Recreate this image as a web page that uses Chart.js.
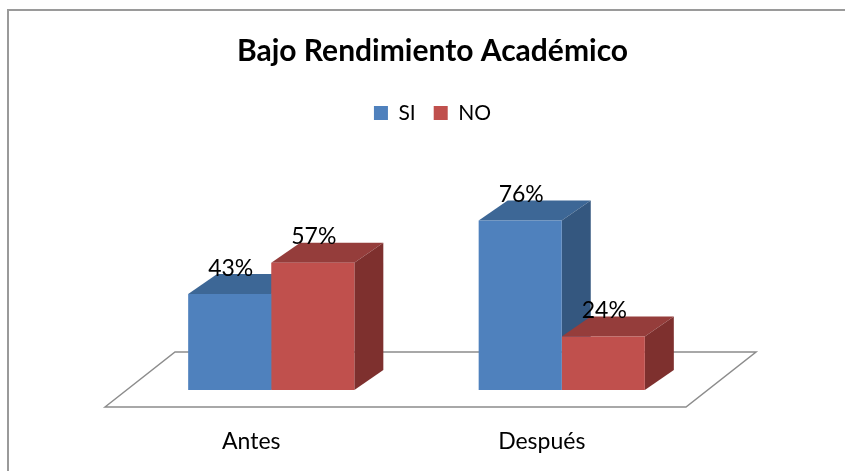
<!DOCTYPE html>
<html>
<head>
<meta charset="utf-8">
<script src="https://cdn.jsdelivr.net/npm/chart.js@4.4.0/dist/chart.umd.min.js"></script>
<style>
body { margin: 0; background: #fff; }
canvas { display: block; }
</style>
</head>
<body>
<canvas id="grafico" width="845" height="471"></canvas>
<script>
const categorias = ['Antes', 'Después'];
const seriesNombres = ['SI', 'NO'];
const valoresSI = [43, 76];
const valoresNO = [57, 24];

const colores = {
    SI: { frente: '#4F81BD', arriba: '#3D6796', lado: '#34577F' },
    NO: { frente: '#C0504D', arriba: '#953D3B', lado: '#7E302E' }
};

// profundidad de las barras y del piso (en px)
const prof = { dx: 29, dy: -20 };
const piso = { dx: 70, dy: -55, adelante: 17, corrX: -21 };

function poligono(ctx, puntos, relleno) {
    ctx.beginPath();
    ctx.moveTo(puntos[0][0], puntos[0][1]);
    for (let i = 1; i < puntos.length; i++) ctx.lineTo(puntos[i][0], puntos[i][1]);
    ctx.closePath();
    ctx.fillStyle = relleno;
    ctx.fill();
}

const efecto3D = {
    id: 'efecto3D',
    beforeDraw(chart) {
        const ctx = chart.ctx;
        ctx.save();
        ctx.strokeStyle = '#9a9a9a';
        ctx.lineWidth = 2;
        ctx.beginPath();
        ctx.moveTo(8, chart.height);
        ctx.lineTo(8, 10);
        ctx.lineTo(chart.width, 10);
        ctx.stroke();
        ctx.restore();
    },
    beforeDatasetsDraw(chart) {
        const ctx = chart.ctx;
        const area = chart.chartArea;
        const base = chart.scales.y.getPixelForValue(0);
        const fy = base + piso.adelante;
        const izq = area.left + piso.corrX;
        const der = area.right + piso.corrX;

        ctx.save();
        ctx.beginPath();
        ctx.moveTo(izq, fy);
        ctx.lineTo(izq + piso.dx, fy + piso.dy);
        ctx.lineTo(der + piso.dx, fy + piso.dy);
        ctx.lineTo(der, fy);
        ctx.closePath();
        ctx.fillStyle = '#ffffff';
        ctx.fill();
        ctx.strokeStyle = '#8c8c8c';
        ctx.lineWidth = 1.5;
        ctx.stroke();

        chart.data.datasets.forEach((ds, i) => {
            const meta = chart.getDatasetMeta(i);
            const col = colores[ds.label];
            meta.data.forEach(bar => {
                const p = bar.getProps(['x', 'y', 'base', 'width'], true);
                const l = p.x - p.width / 2;
                const r = p.x + p.width / 2;
                poligono(ctx, [[l, p.y], [l + prof.dx, p.y + prof.dy], [r + prof.dx, p.y + prof.dy], [r, p.y]], col.arriba);
                poligono(ctx, [[r, p.y], [r + prof.dx, p.y + prof.dy], [r + prof.dx, p.base + prof.dy], [r, p.base]], col.lado);
            });
        });
        ctx.restore();
    },
    afterDatasetsDraw(chart) {
        const ctx = chart.ctx;
        ctx.save();
        ctx.font = '23px Lato';
        ctx.fillStyle = '#000';
        ctx.textAlign = 'center';
        ctx.textBaseline = 'middle';
        chart.data.datasets.forEach((ds, i) => {
            chart.getDatasetMeta(i).data.forEach((bar, j) => {
                const p = bar.getProps(['x', 'y'], true);
                ctx.fillText(ds.data[j] + '%', p.x + 1, p.y - 26);
            });
        });
        ctx.restore();
    }
};

Chart.defaults.font.family = 'Lato';
Chart.defaults.color = '#000';

// eje invisible que solo reserva espacio
function ejeHueco(posicion, ancho) {
    return {
        position: posicion,
        display: true,
        min: 0,
        max: 115,
        grid: { display: false, drawTicks: false },
        border: { display: false },
        ticks: { display: false },
        afterFit(scale) { scale.width = ancho; }
    };
}

new Chart(document.getElementById('grafico'), {
    type: 'bar',
    data: {
        labels: categorias,
        datasets: [
            { label: seriesNombres[0], data: valoresSI, backgroundColor: colores.SI.frente, borderWidth: 0, yAxisID: 'y' },
            { label: seriesNombres[1], data: valoresNO, backgroundColor: colores.NO.frente, borderWidth: 0, yAxisID: 'y' }
        ]
    },
    options: {
        responsive: false,
        animation: false,
        layout: { padding: { left: 20, right: 0, top: 0, bottom: 16 } },
        datasets: { bar: { barPercentage: 1, categoryPercentage: 0.572 } },
        plugins: {
            title: {
                display: true,
                text: 'Bajo Rendimiento Académico',
                font: { size: 30, weight: 'bold' },
                color: '#000',
                padding: { top: 33, bottom: 15.5 }
            },
            legend: {
                labels: { boxWidth: 14, boxHeight: 14, padding: 18, font: { size: 21 }, color: '#000' }
            },
            tooltip: { enabled: false }
        },
        scales: {
            x: {
                grid: { display: false, drawTicks: false },
                border: { display: false },
                ticks: { font: { size: 23 }, color: '#000', padding: 38, labelOffset: -20 },
                afterFit(scale) { scale.height = 65; }
            },
            y: ejeHueco('left', 106),
            y2: ejeHueco('right', 138)
        }
    },
    plugins: [efecto3D]
});
</script>
</body>
</html>
